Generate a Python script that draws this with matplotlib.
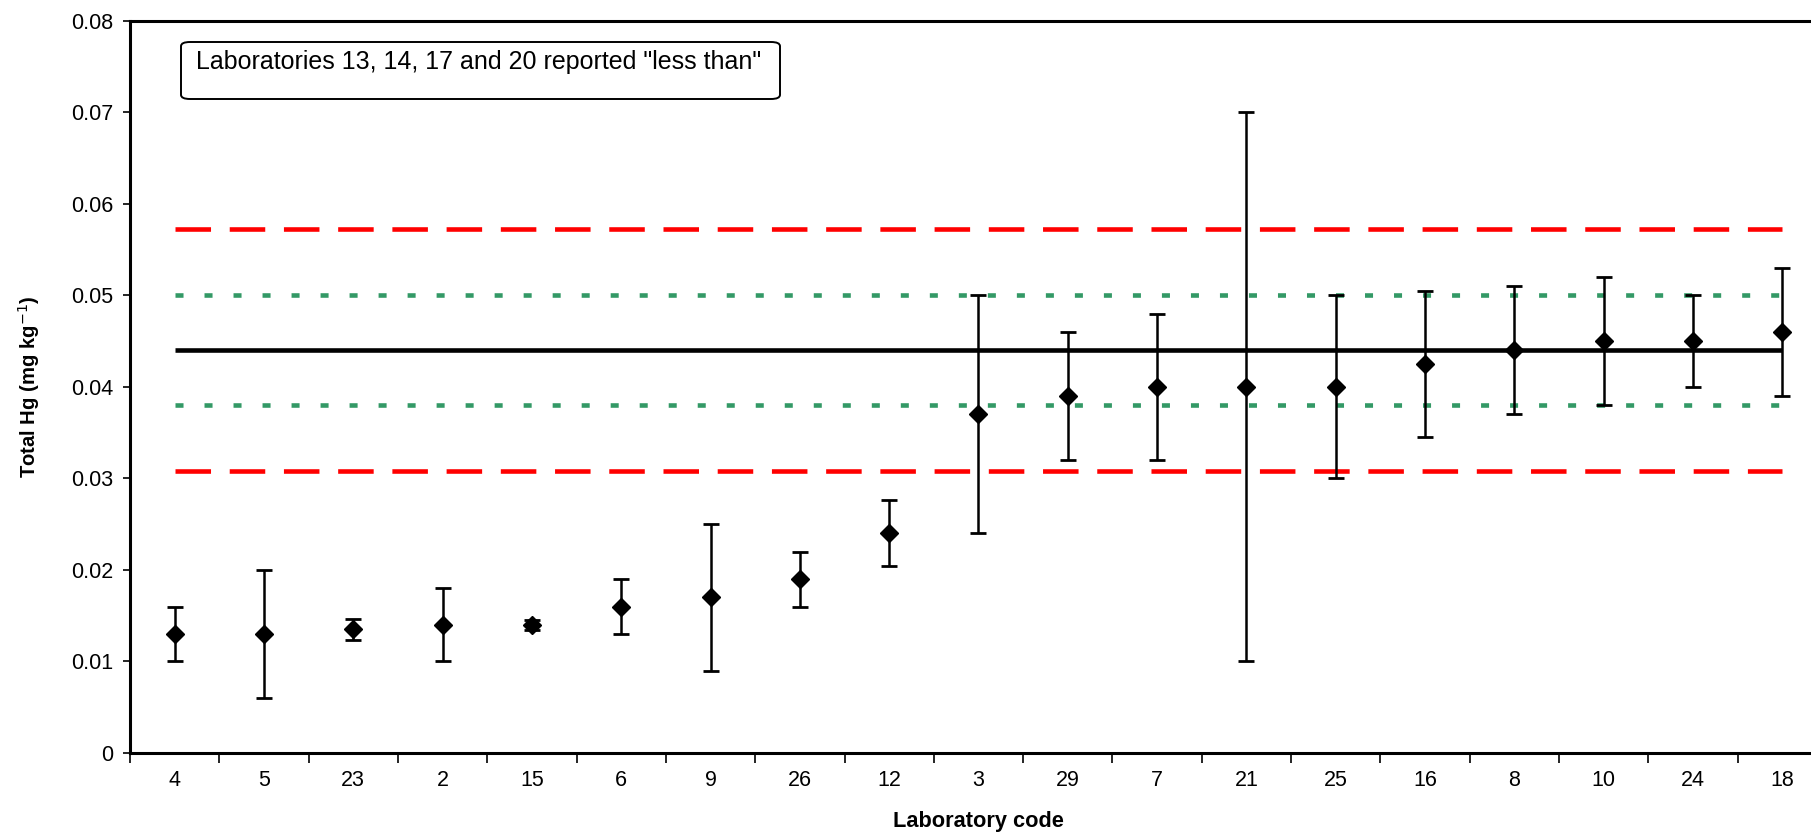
import numpy as np
import matplotlib
matplotlib.use("Agg")
import matplotlib.pyplot as plt
from matplotlib.patches import FancyBboxPatch

plt.rcParams['font.family'] = ['Liberation Sans', 'DejaVu Sans']

# laboratory results, sorted by value
labs = ['4', '5', '23', '2', '15', '6', '9', '26', '12', '3',
        '29', '7', '21', '25', '16', '8', '10', '24', '18']
values = [0.013, 0.013, 0.0135, 0.014, 0.014, 0.016, 0.017, 0.019, 0.024, 0.037,
          0.039, 0.040, 0.040, 0.040, 0.0425, 0.044, 0.045, 0.045, 0.046]
upper = [0.016, 0.020, 0.0146, 0.018, 0.0145, 0.019, 0.025, 0.022, 0.0276, 0.050,
         0.046, 0.048, 0.070, 0.050, 0.0505, 0.051, 0.052, 0.050, 0.053]
lower = [0.010, 0.006, 0.0124, 0.010, 0.0134, 0.013, 0.009, 0.016, 0.0204, 0.024,
         0.032, 0.032, 0.010, 0.030, 0.0345, 0.037, 0.038, 0.040, 0.039]

# assigned value and limits
assigned = 0.044
inner_lo, inner_hi = 0.038, 0.050
outer_lo, outer_hi = 0.0308, 0.0572

W, H = 1811, 835
fig = plt.figure(figsize=(W / 100, H / 100), dpi=100)

# axes goes slightly past the right edge, as in the original
left, right, top, bottom = 130, 1827, 20.8, 753
ax = fig.add_axes([left / W, 1 - bottom / H, (right - left) / W, (bottom - top) / H])

n = len(labs)
x = np.arange(n)
v = np.array(values)
yerr = [v - np.array(lower), np.array(upper) - v]

ax.plot(x, np.full(n, outer_hi), color='#FF0000', lw=3.3, dashes=(7.75, 4.08), zorder=2)
ax.plot(x, np.full(n, outer_lo), color='#FF0000', lw=3.3, dashes=(7.75, 4.08), zorder=2)
ax.plot(x, np.full(n, inner_hi), color='#339966', lw=3.3, dashes=(1.75, 4.58), zorder=2)
ax.plot(x, np.full(n, inner_lo), color='#339966', lw=3.3, dashes=(1.75, 4.58), zorder=2)
ax.plot(x, np.full(n, assigned), color='black', lw=3.3, solid_capstyle='butt', zorder=2)

ax.errorbar(x, v, yerr=yerr, fmt='D', color='black', ms=9, ecolor='black',
            elinewidth=1.8, capsize=5.6, capthick=2, zorder=3)

ax.set_xlim(-0.5, n - 0.5)
ax.set_ylim(0, 0.08)
ax.set_yticks(np.arange(0, 0.081, 0.01))
ax.set_yticklabels(['0'] + ['%.2f' % t for t in np.arange(0.01, 0.081, 0.01)])
ax.set_xticks(x)
ax.set_xticklabels(labs)
ax.set_xticks(np.arange(n + 1) - 0.5, minor=True)
ax.tick_params(axis='x', which='major', length=0, pad=12, labelsize=15.5)
ax.tick_params(axis='x', which='minor', length=7, width=1.2, direction='out')
ax.tick_params(axis='y', length=5, width=1.2, pad=7, labelsize=15.5)

for s in ax.spines.values():
    s.set_linewidth(2.2)

fig.text(29 / W, 1 - 387 / H, 'Total Hg (mg kg$^{-1}$)', rotation=90,
         ha='center', va='center', fontsize=14.6, fontweight='bold')
fig.text(978 / W, 1 - 822 / H, 'Laboratory code', ha='center', va='center',
         fontsize=15.7, fontweight='bold')

# note box
box = FancyBboxPatch((181 / W, 1 - 99 / H), (780 - 181) / W, (99 - 42) / H,
                     boxstyle='round,pad=0,rounding_size=0.005', transform=fig.transFigure,
                     facecolor='white', edgecolor='black', lw=1.4, zorder=5)
fig.add_artist(box)
fig.text(196 / W, 1 - 62 / H, 'Laboratories 13, 14, 17 and 20 reported "less than"',
         ha='left', va='center', fontsize=18, zorder=6)

fig.savefig('out.png', dpi=100)
